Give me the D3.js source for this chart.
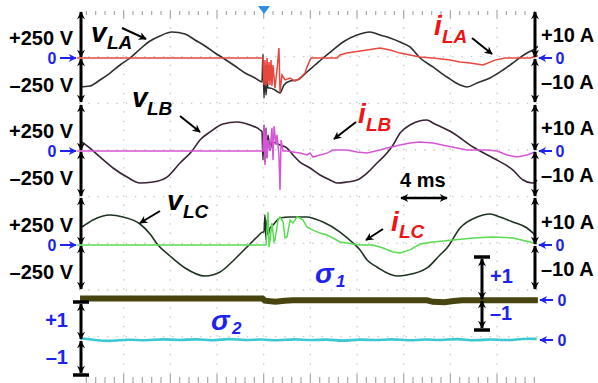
<!DOCTYPE html>
<html>
<head>
<meta charset="utf-8">
<script src="https://cdn.jsdelivr.net/npm/d3@7"></script>
<style>
body { margin: 0; background: #fff; }
svg { display: block; font-family: "Liberation Sans", Arial, sans-serif; font-weight: bold; }
</style>
</head>
<body>
<div id="scope"></div>
<script>
// time in ms, voltage in V, current in A, switching signals in p.u.
const vLA = [[0.26,-311],[1.11,-300],[1.97,-236],[2.83,-161],[3.69,-75],[4.54,0],[5.40,96],[6.26,182],[7.11,236],[8.14,279],[9.26,257],[10.11,193],[10.97,129],[11.83,54],[12.51,0],[13.54,-86],[14.40,-161],[15.26,-214],[15.86,-257],[15.94,43],[16.03,-429],[16.11,-129],[16.20,-396],[16.29,-236],[16.37,-321],[16.54,-321],[16.97,-343],[17.40,-375],[17.74,-289],[18.26,-246],[18.86,-236],[19.71,-150],[20.40,-75],[21.09,0],[21.94,86],[22.80,171],[24.00,246],[25.11,279],[25.97,246],[26.83,214],[27.69,171],[28.54,118],[29.40,0],[30.51,-96],[31.71,-204],[32.83,-289],[33.43,-311],[34.29,-268],[35.40,-214],[36.51,-129],[37.71,-21],[38.57,54],[39.09,86],[39.69,139]]
const iLA = [[0,0],[15.94,0],[16.03,-11.6],[16.11,-0.9],[16.20,-12],[16.29,0],[16.37,-11.1],[16.46,-1.7],[16.54,-11.6],[16.63,-0.9],[16.71,-12],[16.80,-3],[16.97,-12.9],[17.14,-5.1],[17.31,4.3],[17.40,-14.6],[17.57,-7.3],[17.83,-9.4],[18.26,-8.6],[18.69,-9.9],[19.11,-8.6],[19.54,-6.4],[19.71,-3.9],[19.97,-0.9],[20.06,0],[22.29,0],[22.54,1.3],[23.14,2.1],[24.86,3.4],[25.97,4.3],[26.83,3.4],[27.69,2.1],[28.54,1.3],[29.40,0.4],[30.51,0],[31.97,-0.9],[32.83,-1.7],[33.69,-2.1],[34.80,-3],[35.83,-0.9],[36.69,0],[38.83,0],[39.69,1.3]]
const vLB = [[0.43,96],[1.11,32],[1.97,-64],[3.09,-182],[4.29,-279],[5.40,-343],[6.51,-332],[7.71,-279],[8.83,-129],[9.86,0],[10.54,118],[11.40,204],[12.51,289],[13.71,311],[14.83,279],[15.69,225],[15.86,204],[15.94,-96],[16.03,279],[16.11,-118],[16.20,246],[16.29,-75],[16.37,171],[16.54,11],[16.71,96],[17.40,64],[18.00,32],[18.51,-43],[19.11,-118],[19.97,-182],[20.83,-257],[21.69,-311],[22.29,-343],[23.14,-332],[24.00,-311],[24.86,-236],[25.71,-129],[26.57,-21],[27.09,64],[27.69,193],[28.54,279],[30.00,332],[30.51,300],[32.23,193],[33.94,43],[35.66,-75],[37.37,-204],[38.23,-311],[39.00,-343],[39.43,-311]]
const iLB = [[0,0],[15.94,0],[16.03,11.1],[16.11,-6],[16.20,9],[16.29,-3],[16.37,4.7],[16.54,0],[16.71,9.9],[16.80,-3.9],[16.89,10.7],[17.06,2.6],[17.14,6.9],[17.31,-1.7],[17.40,-16.7],[17.49,4.7],[17.66,0],[18.00,0],[18.51,-0.4],[19.11,-0.9],[19.71,-1.7],[19.97,-0.9],[20.23,-2.6],[20.83,-1.7],[21.43,-0.9],[21.94,0.4],[23.14,0.4],[24.00,-0.4],[24.86,-0.9],[25.97,0.4],[26.57,1.3],[27.69,2.6],[28.54,3.4],[29.40,3.9],[30.51,3.4],[31.71,2.1],[33.43,0.4],[35.14,0.4],[36.00,0],[36.86,-1.7],[37.71,-2.6],[38.57,-1.7],[39.26,-0.4]]
const vLC = [[0.43,193],[1.37,268],[2.83,321],[3.94,300],[5.40,225],[6.26,118],[6.94,0],[7.97,-118],[9.26,-246],[10.97,-332],[12.26,-289],[13.37,-171],[14.14,-75],[14.83,11],[15.51,96],[15.94,139],[16.03,139],[16.11,321],[16.20,54],[16.29,268],[16.37,107],[16.54,182],[16.80,214],[17.40,289],[18.26,300],[19.11,300],[19.71,300],[20.40,279],[21.09,246],[22.54,139],[23.66,21],[24.26,-54],[24.86,-161],[25.71,-236],[27.43,-332],[28.29,-321],[30.00,-246],[31.11,-107],[31.71,-32],[32.83,182],[34.29,300],[35.40,332],[36.26,300],[37.37,246],[38.57,182],[39.26,107]]
const iLC = [[0,0],[16.11,0],[16.20,0],[16.37,14.1],[16.46,-0.9],[16.54,2.1],[16.71,9.4],[16.89,1.3],[16.97,2.1],[17.23,10.7],[17.40,12],[17.66,9.9],[17.83,3],[18.00,3.4],[18.26,10.7],[18.51,9.4],[18.86,12],[19.11,11.6],[19.37,10.7],[19.71,7.7],[20.23,6.4],[20.83,5.1],[21.43,4.3],[21.94,3],[22.54,1.3],[23.14,0.9],[23.66,0.4],[24.26,0],[25.37,0],[26.23,-1.3],[27.09,-3],[27.69,-3.4],[28.54,-2.1],[29.40,0.4],[30.51,1.3],[32.23,2.1],[33.94,3],[35.66,3.4],[37.37,3],[38.83,1.3],[39.43,0.4]]
const sigma1 = [[0.26,0.04],[8,0.04],[15.9,0.04],[16.1,-0.02],[17,-0.05],[17.8,-0.02],[18.5,-0.01],[30,-0.01],[30.5,-0.05],[31.5,-0.06],[32.3,-0.03],[33,-0.01],[39.5,-0.01]]
const sigma2 = [[0.26,0.05],[1.5,0.0],[3.0,-0.04],[4.4,0.03],[5.9,-0.03],[7.3,0.04],[8.8,-0.02],[10.2,0.04],[11.6,-0.03],[13.0,0.05],[14.4,-0.02],[15.8,0.03],[17.2,-0.03],[18.6,0.04],[20.0,-0.02],[21.4,0.03],[22.8,-0.04],[24.2,0.03],[25.6,-0.02],[27.0,0.04],[28.4,-0.03],[29.8,0.03],[31.2,-0.02],[32.6,0.05],[34.0,-0.03],[35.4,0.03],[36.8,-0.02],[38.2,0.04],[39.4,0.03]]

const w = 598, h = 383
const left = 77, div = 46.67
const topY = 10
const zeros = [58, 151, 245]
const sigZeros = [300, 340]

const svg = d3.select('#scope').append('svg').attr('width', w).attr('height', h)
const defs = svg.append('defs')
function marker(id, color) {
    defs.append('marker').attr('id', id)
        .attr('viewBox', '0 0 10 10').attr('refX', 9).attr('refY', 5)
        .attr('markerWidth', 9).attr('markerHeight', 8)
        .attr('markerUnits', 'userSpaceOnUse')
        .attr('orient', 'auto-start-reverse')
        .append('path').attr('d', 'M0,0 L10,5 L0,10 L3,5 z').attr('fill', color)
}
marker('ab', '#000')
marker('au', '#1e22ee')
defs.append('clipPath').attr('id', 'clip').append('rect')
    .attr('x', left).attr('y', 0).attr('width', 461).attr('height', h)

const x = d3.scaleLinear().domain([0, 40]).range([left, left + 10 * div])

// grid
const g = svg.append('g')
for (let k = 1; k < 10; k++) {
    g.append('line').attr('x1', left + k * div).attr('x2', left + k * div)
        .attr('y1', topY + 8).attr('y2', topY + 8 * div - 8)
        .attr('stroke', '#c4c4c4').attr('stroke-width', 1.3).attr('stroke-dasharray', '1.3 8.03')
}
for (let k = 1; k < 8; k++) {
    g.append('line').attr('x1', left + 2).attr('x2', left + 10 * div - 4)
        .attr('y1', topY + k * div).attr('y2', topY + k * div)
        .attr('stroke', '#c4c4c4').attr('stroke-width', 1.3).attr('stroke-dasharray', '1.3 8.03')
}
for (let k = 1; k < 50; k++) {
    const major = k % 5 === 0
    const xx = left + k * div / 5
    g.append('line').attr('x1', xx).attr('x2', xx)
        .attr('y1', major ? 10 : 11).attr('y2', major ? 18 : 15)
        .attr('stroke', '#a8a8a8').attr('stroke-width', 1.2)
    g.append('line').attr('x1', xx).attr('x2', xx)
        .attr('y1', major ? 374 : 377).attr('y2', 383)
        .attr('stroke', '#a8a8a8').attr('stroke-width', 1.2)
}
svg.append('path').attr('d', 'M258,6 L270,6 L264,14 Z').attr('fill', '#2f8fe0')

// traces
const traces = svg.append('g').attr('clip-path', 'url(#clip)')
const vCols = ['#2e2e2e', '#3a2236', '#1e3320']
const iCols = ['#e8473f', '#d655d6', '#58dc50']
const vData = [vLA, vLB, vLC]
const iData = [iLA, iLB, iLC]
zeros.forEach((z, k) => {
    const yV = d3.scaleLinear().domain([-500, 500]).range([z + div, z - div])
    const yI = d3.scaleLinear().domain([-20, 20]).range([z + div, z - div])
    traces.append('path').datum(vData[k])
        .attr('d', d3.line().x(d => x(d[0])).y(d => yV(d[1])).curve(d3.curveMonotoneX))
        .attr('fill', 'none').attr('stroke', vCols[k]).attr('stroke-width', 1.6)
    traces.append('path').datum(iData[k])
        .attr('d', d3.line().x(d => x(d[0])).y(d => yI(d[1])))
        .attr('fill', 'none').attr('stroke', iCols[k]).attr('stroke-width', 1.5)
})
const yS1 = d3.scaleLinear().domain([-1, 1]).range([sigZeros[0] + 36.5, sigZeros[0] - 36.5])
const yS2 = d3.scaleLinear().domain([-1, 1]).range([sigZeros[1] + 36.5, sigZeros[1] - 36.5])
traces.append('path').datum(sigma1)
    .attr('d', d3.line().x(d => x(d[0])).y(d => yS1(d[1])))
    .attr('fill', 'none').attr('stroke', '#47440f').attr('stroke-width', 6)
traces.append('path').datum(sigma2)
    .attr('d', d3.line().x(d => x(d[0])).y(d => yS2(d[1])).curve(d3.curveBasis))
    .attr('fill', 'none').attr('stroke', '#3cc8d2').attr('stroke-width', 2.6)

// axes with double arrows
function dbl(x1, y1, x2, y2, color, sw) {
    svg.append('line').attr('x1', x1).attr('y1', y1).attr('x2', x2).attr('y2', y2)
        .attr('stroke', color).attr('stroke-width', sw || 3)
        .attr('marker-start', 'url(#ab)').attr('marker-end', 'url(#ab)')
}
function bar(x1, x2, y) {
    svg.append('line').attr('x1', x1).attr('x2', x2).attr('y1', y).attr('y2', y)
        .attr('stroke', '#000').attr('stroke-width', 3.5)
}
const segs = [[12, 57], [59, 102], [105, 150], [152, 196], [198, 244], [246, 289]]
segs.forEach(s => { dbl(81, s[0], 81, s[1], '#000'); dbl(535, s[0], 535, s[1], '#000') })
bar(73, 89, 302); bar(73, 89, 375)
dbl(81, 304, 81, 339, '#000'); dbl(81, 341, 81, 373, '#000')
bar(474, 490, 257); bar(474, 490, 330)
dbl(482, 259, 482, 299, '#000'); dbl(482, 301, 482, 328, '#000')
dbl(401, 198, 447, 198, '#000', 2.5)

// scale labels
function txt(tx, ty, s, size, color, anchor, italic) {
    return svg.append('text').attr('x', tx).attr('y', ty).text(s)
        .attr('font-size', size).attr('fill', color || '#000')
        .attr('text-anchor', anchor || 'start')
        .attr('font-style', italic ? 'italic' : 'normal')
}
const blue = '#1e22ee'
zeros.forEach(z => {
    txt(73, z - 13, '+250 V', 20, '#000', 'end')
    txt(73, z + 34, '–250 V', 20, '#000', 'end')
    txt(541, z - 16, '+10 A', 20)
    txt(541, z + 31, '–10 A', 20)
    txt(52, z + 6, '0', 16, blue, 'middle')
    svg.append('line').attr('x1', 60).attr('x2', 76).attr('y1', z).attr('y2', z)
        .attr('stroke', blue).attr('stroke-width', 2).attr('marker-end', 'url(#au)')
    txt(560, z + 6, '0', 16, blue, 'middle')
    svg.append('line').attr('x1', 552).attr('x2', 539).attr('y1', z).attr('y2', z)
        .attr('stroke', blue).attr('stroke-width', 2).attr('marker-end', 'url(#au)')
})
sigZeros.forEach(z => {
    txt(562, z + 6, '0', 16, blue, 'middle')
    svg.append('line').attr('x1', 553).attr('x2', 540).attr('y1', z).attr('y2', z)
        .attr('stroke', blue).attr('stroke-width', 2).attr('marker-end', 'url(#au)')
})
txt(68, 327, '+1', 20, blue, 'end')
txt(68, 364, '–1', 20, blue, 'end')
txt(490, 283, '+1', 20, blue)
txt(490, 320, '–1', 20, blue)
txt(400, 187, '4 ms', 20)

// trace names
function name(tx, ty, a, b, color, sub) {
    txt(tx, ty, a, 28, color, 'start', true)
    txt(tx + sub[0], ty + sub[1], b, 19, color, 'start', true)
}
function pointer(x1, y1, x2, y2) {
    svg.append('line').attr('x1', x1).attr('y1', y1).attr('x2', x2).attr('y2', y2)
        .attr('stroke', '#000').attr('stroke-width', 2).attr('marker-end', 'url(#ab)')
}
name(91, 42, 'v', 'LA', '#000', [16, 7]); pointer(122, 28, 146, 39)
name(132, 107, 'v', 'LB', '#000', [15, 8]); pointer(180, 116, 200, 132)
name(167, 210, 'v', 'LC', '#000', [16, 8]); pointer(160, 211, 140, 223)
name(434, 35, 'i', 'LA', '#ee1414', [8, 8]); pointer(472, 38, 492, 54)
name(358, 123, 'i', 'LB', '#ee1414', [8, 8]); pointer(356, 122, 334, 139)
name(391, 231, 'i', 'LC', '#ee1414', [8, 7]); pointer(383, 229, 366, 240)
txt(315, 283, 'σ', 28, blue, 'start', true)
txt(336, 287, '1', 17, blue, 'start', true)
txt(211, 330, 'σ', 28, blue, 'start', true)
txt(232, 334, '2', 17, blue, 'start', true)
</script>
</body>
</html>
